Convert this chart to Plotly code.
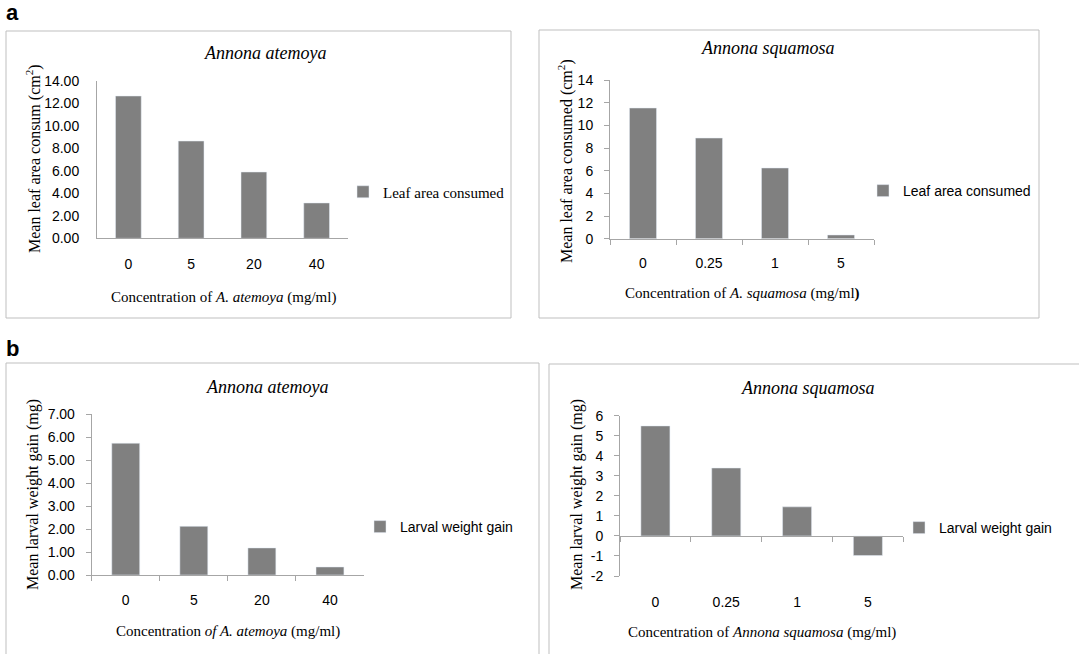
import plotly.graph_objects as go

# ---------------- data ----------------
conc_atemoya = ["0", "5", "20", "40"]
conc_squamosa = ["0", "0.25", "1", "5"]
leaf_atemoya = [12.64, 8.64, 5.89, 3.14]
leaf_squamosa = [11.53, 8.88, 6.24, 0.33]
weight_atemoya = [5.74, 2.12, 1.18, 0.35]
weight_squamosa = [5.49, 3.39, 1.45, -0.98]

yt_leaf_atemoya = [0, 2, 4, 6, 8, 10, 12, 14]
yt_leaf_squamosa = [0, 2, 4, 6, 8, 10, 12, 14]
yt_weight_atemoya = [0, 1, 2, 3, 4, 5, 6, 7]
yt_weight_squamosa = [-2, -1, 0, 1, 2, 3, 4, 5, 6]
yt_weight_squamosa_text = ["-2", "-1", "0", "1", "2", "3", "4", "5", "6"]

W, H = 1079, 654
SERIF = "Liberation Serif, Times New Roman, serif"
SANS = "Liberation Sans, Arial, Helvetica, sans-serif"
BAR = "#808080"
AXC = "#a6a6a6"
BOXC = "#bfbfbf"


def px(x):
    return x / W


def py(y):
    return 1 - y / H


fig = go.Figure()

fig.add_trace(go.Bar(x=conc_atemoya, y=leaf_atemoya, name="Leaf area consumed",
                     marker_color=BAR, xaxis="x", yaxis="y", legend="legend", showlegend=True))
fig.add_trace(go.Bar(x=conc_squamosa, y=leaf_squamosa, name="Leaf area consumed",
                     marker_color=BAR, xaxis="x2", yaxis="y2", legend="legend2", showlegend=True))
fig.add_trace(go.Bar(x=conc_atemoya, y=weight_atemoya, name="Larval weight gain",
                     marker_color=BAR, xaxis="x3", yaxis="y3", legend="legend3", showlegend=True))
fig.add_trace(go.Bar(x=conc_squamosa, y=weight_squamosa, name="Larval weight gain",
                     marker_color=BAR, xaxis="x4", yaxis="y4", legend="legend4", showlegend=True))

tickfont = dict(family=SANS, size=14, color="black")

def xax(x0, x1, anchor, ticks, standoff, position=None):
    d = dict(domain=[px(x0), px(x1)], type="category", range=[-0.5, 3.5],
             showline=True, linecolor=AXC, linewidth=1, showgrid=False,
             zeroline=False, ticks=ticks, ticklen=5, tickcolor=AXC,
             tickson="boundaries", tickfont=tickfont, ticklabelstandoff=int(round(standoff)),
             fixedrange=True, automargin=False)
    if position is None:
        d["anchor"] = anchor
    else:
        d["anchor"] = "free"
        d["position"] = position
    return d


def yax(y_top, y_bot, rng, anchor, ticks, tickvals, ticktext=None, fmt=None, standoff=8):
    d = dict(domain=[py(y_bot), py(y_top)], range=rng, anchor=anchor,
             showline=True, linecolor=AXC, linewidth=1, showgrid=False,
             zeroline=False, ticks=ticks, ticklen=5, tickcolor=AXC,
             tickvals=tickvals, tickfont=tickfont, ticklabelstandoff=int(round(standoff)),
             fixedrange=True, automargin=False)
    if ticktext is not None:
        d["ticktext"] = ticktext
    if fmt:
        d["tickformat"] = fmt
    return d

# zero position for b-right x axis
b4_top, b4_bot = 415.7, 576.0
zero_y = b4_top + (6 - 0) / 8 * (b4_bot - b4_top)

fig.update_layout(
    width=W, height=H, margin=dict(l=0, r=0, t=0, b=0, autoexpand=False),
    paper_bgcolor="white", plot_bgcolor="white", bargap=0.59, showlegend=True,
    xaxis=xax(97, 348, "y", "", 13),
    yaxis=yax(80.7, 238.3, [0, 14], "x", "", yt_leaf_atemoya, fmt=".2f", standoff=14),
    xaxis2=xax(610, 874, "y2", "outside", 11),
    yaxis2=yax(80.0, 238.7, [0, 14], "x2", "outside", yt_leaf_squamosa, standoff=8),
    xaxis3=xax(91.7, 364, "y3", "outside", 12),
    yaxis3=yax(414.3, 575.0, [0, 7], "x3", "outside", yt_weight_atemoya, fmt=".2f", standoff=8),
    xaxis4=xax(620, 903.3, "y4", "outside", 13 + (b4_bot - zero_y), position=py(zero_y)),
    yaxis4=yax(b4_top, b4_bot, [-2, 6], "x4", "outside", yt_weight_squamosa,
               ticktext=yt_weight_squamosa_text, standoff=8),
    legend=dict(x=px(383 - 40), y=py(192), xanchor="left", yanchor="middle", visible=True,
                font=dict(family=SERIF, size=15, color="black"), bgcolor="rgba(0,0,0,0)"),
    legend2=dict(x=px(903 - 40), y=py(191), xanchor="left", yanchor="middle", visible=True,
                 font=dict(family=SANS, size=14, color="black"), bgcolor="rgba(0,0,0,0)"),
    legend3=dict(x=px(400 - 40), y=py(527), xanchor="left", yanchor="middle", visible=True,
                 font=dict(family=SANS, size=14, color="black"), bgcolor="rgba(0,0,0,0)"),
    legend4=dict(x=px(939 - 40), y=py(528), xanchor="left", yanchor="middle", visible=True,
                 font=dict(family=SANS, size=14, color="black"), bgcolor="rgba(0,0,0,0)"),
)

# panel boxes
boxes = [(6, 31, 511, 318), (539, 30, 1039, 318), (6, 363, 539, 700), (549, 364, 1100, 700)]
for x0, y0, x1, y1 in boxes:
    fig.add_shape(type="rect", xref="paper", yref="paper",
                  x0=px(x0), x1=px(x1), y0=py(y1), y1=py(y0),
                  line=dict(color=BOXC, width=1), fillcolor="rgba(0,0,0,0)", layer="below")

def ann(text, x, y, size=14, family=SERIF, angle=0, **kw):
    fig.add_annotation(text=text, x=px(x), y=py(y), xref="paper", yref="paper",
                       showarrow=False, xanchor="center", yanchor="middle",
                       textangle=angle, font=dict(family=family, size=size, color="black"), **kw)

# panel letters
ann("<b>a</b>", 12, 13, size=22, family=SANS)
ann("<b>b</b>", 12, 348, size=22, family=SANS)

# titles
ann("<i>Annona atemoya</i>", 265, 53, size=18)
ann("<i>Annona squamosa</i>", 768, 48, size=18)
ann("<i>Annona atemoya</i>", 267, 387, size=18)
ann("<i>Annona squamosa</i>", 808, 388, size=18)

# x titles
ann("Concentration of <i>A. atemoya</i> (mg/ml)", 223, 297, size=15)
ann("Concentration of <i>A. squamosa</i> (mg/ml<b>)</b>", 742, 293, size=15)
ann("Concentration <i>of A. atemoya</i> (mg/ml)", 228, 631, size=15)
ann("Concentration of <i>Annona squamosa</i> (mg/ml)", 762, 632, size=15)

# y titles
ann("Mean leaf area consum (cm<sup>2</sup>)", 33, 159, size=16, angle=-90)
ann("Mean leaf area consumed (cm<sup>2</sup>)", 565, 161, size=16, angle=-90)
ann("Mean larval weight gain (mg)", 33, 495, size=16, angle=-90)
ann("Mean larval weight gain (mg)", 577, 495, size=16, angle=-90)

fig.write_html("out.html", config={"displayModeBar": False},
               post_script="document.body.style.margin='0px';")
